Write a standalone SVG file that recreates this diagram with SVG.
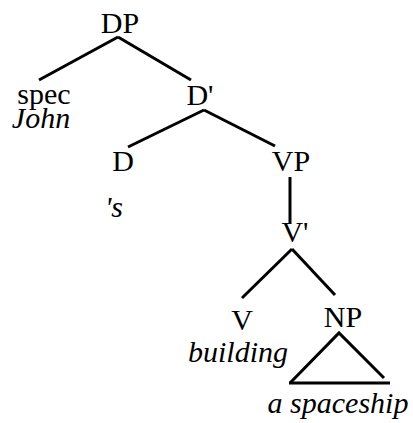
<svg xmlns="http://www.w3.org/2000/svg" width="413" height="423" viewBox="0 0 413 423">
<style>
text{font-family:"Liberation Serif","Times New Roman",serif;font-size:30px;fill:#000;text-anchor:middle}
.it{font-style:italic}
.edge{stroke:#000;stroke-width:3;fill:none;stroke-linecap:butt}
</style>
<rect width="413" height="423" fill="#fff"/>
<g id="connectors">
<line class="edge" x1="118" y1="37" x2="39" y2="80"/>
<line class="edge" x1="118" y1="37" x2="191" y2="80"/>
<line class="edge" x1="204" y1="110" x2="128" y2="147"/>
<line class="edge" x1="204" y1="110" x2="275" y2="146"/>
<line class="edge" x1="290" y1="177" x2="290" y2="224"/>
<line class="edge" x1="292" y1="249" x2="242" y2="298"/>
<line class="edge" x1="292" y1="249" x2="335" y2="295"/>
<polyline class="edge" points="290,383 339,333 384,378"/>
<line class="edge" x1="289" y1="383" x2="390" y2="383"/>
</g>
<g id="DP"><text x="120" y="33">DP</text></g>
<g id="spec"><text x="44" y="104">spec</text><text class="it" x="41" y="128">John</text></g>
<g id="Dbar"><text x="200" y="105">D'</text></g>
<g id="D"><text x="123" y="171">D</text><text class="it" x="114" y="217">'s</text></g>
<g id="VP"><text x="291" y="171">VP</text></g>
<g id="Vbar"><text x="295" y="242">V'</text></g>
<g id="V"><text x="242" y="330">V</text><text class="it" x="238" y="362">building</text></g>
<g id="NP"><text x="343" y="327">NP</text><text class="it" x="338" y="413">a spaceship</text></g>
</svg>
